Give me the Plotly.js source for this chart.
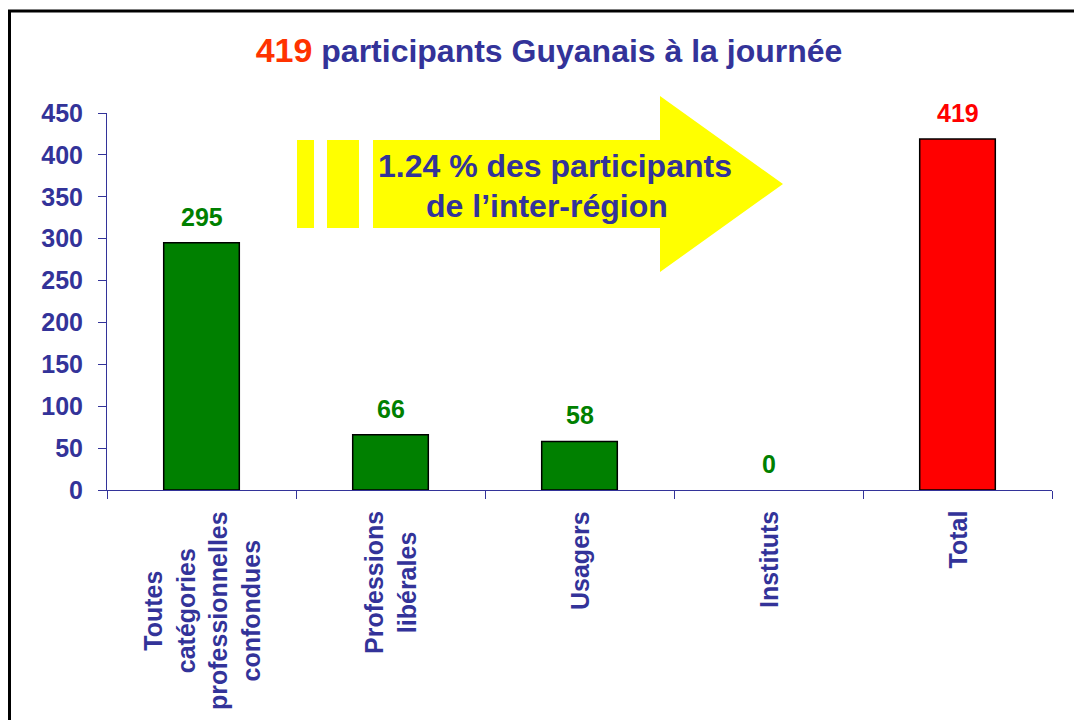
<!DOCTYPE html>
<html>
<head>
<meta charset="utf-8">
<script src="https://cdn.plot.ly/plotly-3.0.1.min.js"></script>
<style>
html,body{margin:0;padding:0;background:#fff;}
#chart{width:1074px;height:720px;}
</style>
</head>
<body>
<div id="chart"></div>
<script>
// ---- data ----
const categories = ["Toutes catégories professionnelles confondues", "Professions libérales", "Usagers", "Instituts", "Total"];
const tickLabels = ["Toutes<br>catégories<br>professionnelles<br>confondues", "Professions<br>libérales", "Usagers", "Instituts", "Total"];
const values = [295, 66, 58, 0, 419];
const titleRest = " participants Guyanais à la journée";
const arrowLines = ["1.24 % des participants", "de l\u2019inter-région"];

// ---- styling ----
const BLUE = "#333399";
const GREEN = "#008000";
const RED = "#FF0000";
const FONT = "Liberation Sans, Arial, Helvetica, sans-serif";
const W = 1074, H = 720;
const L = 107, R = 22, T = 113, B = 230;
const PW = W - L - R, PH = H - T - B;
const px = x => (x - L) / PW;          // pixel -> paper x
const py = y => (H - B - y) / PH;      // pixel -> paper y

const barColors = values.map((v, i) => i === values.length - 1 ? RED : GREEN);
const labelColors = barColors.map(c => c === RED ? RED : GREEN);
const outlineWidths = values.map(v => v === 0 ? 0 : 1.5);

const trace = {
  type: "bar",
  x: categories,
  y: values,
  width: 0.4,
  marker: {color: barColors, line: {color: "#000", width: outlineWidths}},
  hoverinfo: "none"
};

const annotations = [];
// value labels
values.forEach((v, i) => {
  annotations.push({
    x: categories[i], y: v, xref: "x", yref: "y",
    text: String(v), showarrow: false, yanchor: "bottom", yshift: 10,
    font: {family: FONT, size: 25, color: labelColors[i], weight: "bold"}
  });
});
// category labels (rotated, centered lines)
tickLabels.forEach((t, i) => {
  annotations.push({
    x: categories[i], xref: "x", y: py(509), yref: "paper",
    text: t, showarrow: false, textangle: -90, align: "center",
    xanchor: "center", yanchor: "top",
    font: {family: FONT, size: 25, color: BLUE, weight: "bold"}
  });
});
// arrow text
annotations.push({
  x: px(555), y: py(166), xref: "paper", yref: "paper",
  text: arrowLines[0], showarrow: false, xanchor: "center", yanchor: "middle",
  font: {family: FONT, size: 32, color: BLUE, weight: "bold"}
});
annotations.push({
  x: px(547), y: py(206), xref: "paper", yref: "paper",
  text: arrowLines[1], showarrow: false, xanchor: "center", yanchor: "middle",
  font: {family: FONT, size: 32, color: BLUE, weight: "bold"}
});

const arrowPath = "M" + px(373) + "," + py(140) +
  " L" + px(660) + "," + py(140) +
  " L" + px(660) + "," + py(96) +
  " L" + px(783) + "," + py(184) +
  " L" + px(660) + "," + py(272) +
  " L" + px(660) + "," + py(228) +
  " L" + px(373) + "," + py(228) + " Z";

const shapes = [
  {type: "rect", xref: "paper", yref: "paper", x0: px(9.5), x1: px(1090), y0: py(11), y1: py(740),
   line: {color: "#000", width: 3}, fillcolor: "rgba(0,0,0,0)", layer: "below"},
  {type: "rect", xref: "paper", yref: "paper", x0: px(297), x1: px(314), y0: py(140), y1: py(228),
   line: {width: 0}, fillcolor: "#FFFF00"},
  {type: "rect", xref: "paper", yref: "paper", x0: px(327), x1: px(359), y0: py(140), y1: py(228),
   line: {width: 0}, fillcolor: "#FFFF00"},
  {type: "path", xref: "paper", yref: "paper", path: arrowPath,
   line: {width: 0}, fillcolor: "#FFFF00"}
];

const layout = {
  width: W, height: H,
  margin: {l: L, r: R, t: T, b: B, pad: 0},
  paper_bgcolor: "#fff", plot_bgcolor: "#fff",
  showlegend: false,
  title: {
    text: '<span style="color:#FF3300;font-size:34px">' + values[values.length - 1] + '</span>' + titleRest,
    x: px(549), xanchor: "center", xref: "paper",
    y: 1 - 51 / H, yanchor: "middle", yref: "container",
    font: {family: FONT, size: 32, color: BLUE, weight: "bold"}
  },
  xaxis: {
    type: "category",
    categoryorder: "array", categoryarray: categories,
    showticklabels: false,
    ticks: "outside", tickson: "boundaries", ticklen: 8, tickwidth: 1, tickcolor: BLUE,
    showline: true, linecolor: BLUE, linewidth: 1,
    showgrid: false, zeroline: false, fixedrange: true
  },
  yaxis: {
    range: [0, 450], dtick: 50, tick0: 0,
    ticks: "outside", ticklen: 8, tickwidth: 1, tickcolor: BLUE,
    ticklabelstandoff: 10,
    showline: true, linecolor: BLUE, linewidth: 1,
    showgrid: false, zeroline: false, fixedrange: true,
    tickfont: {family: FONT, size: 25, color: BLUE, weight: "bold"}
  },
  annotations: annotations,
  shapes: shapes
};

Plotly.newPlot("chart", [trace], layout, {displayModeBar: false, staticPlot: true});
</script>
</body>
</html>
